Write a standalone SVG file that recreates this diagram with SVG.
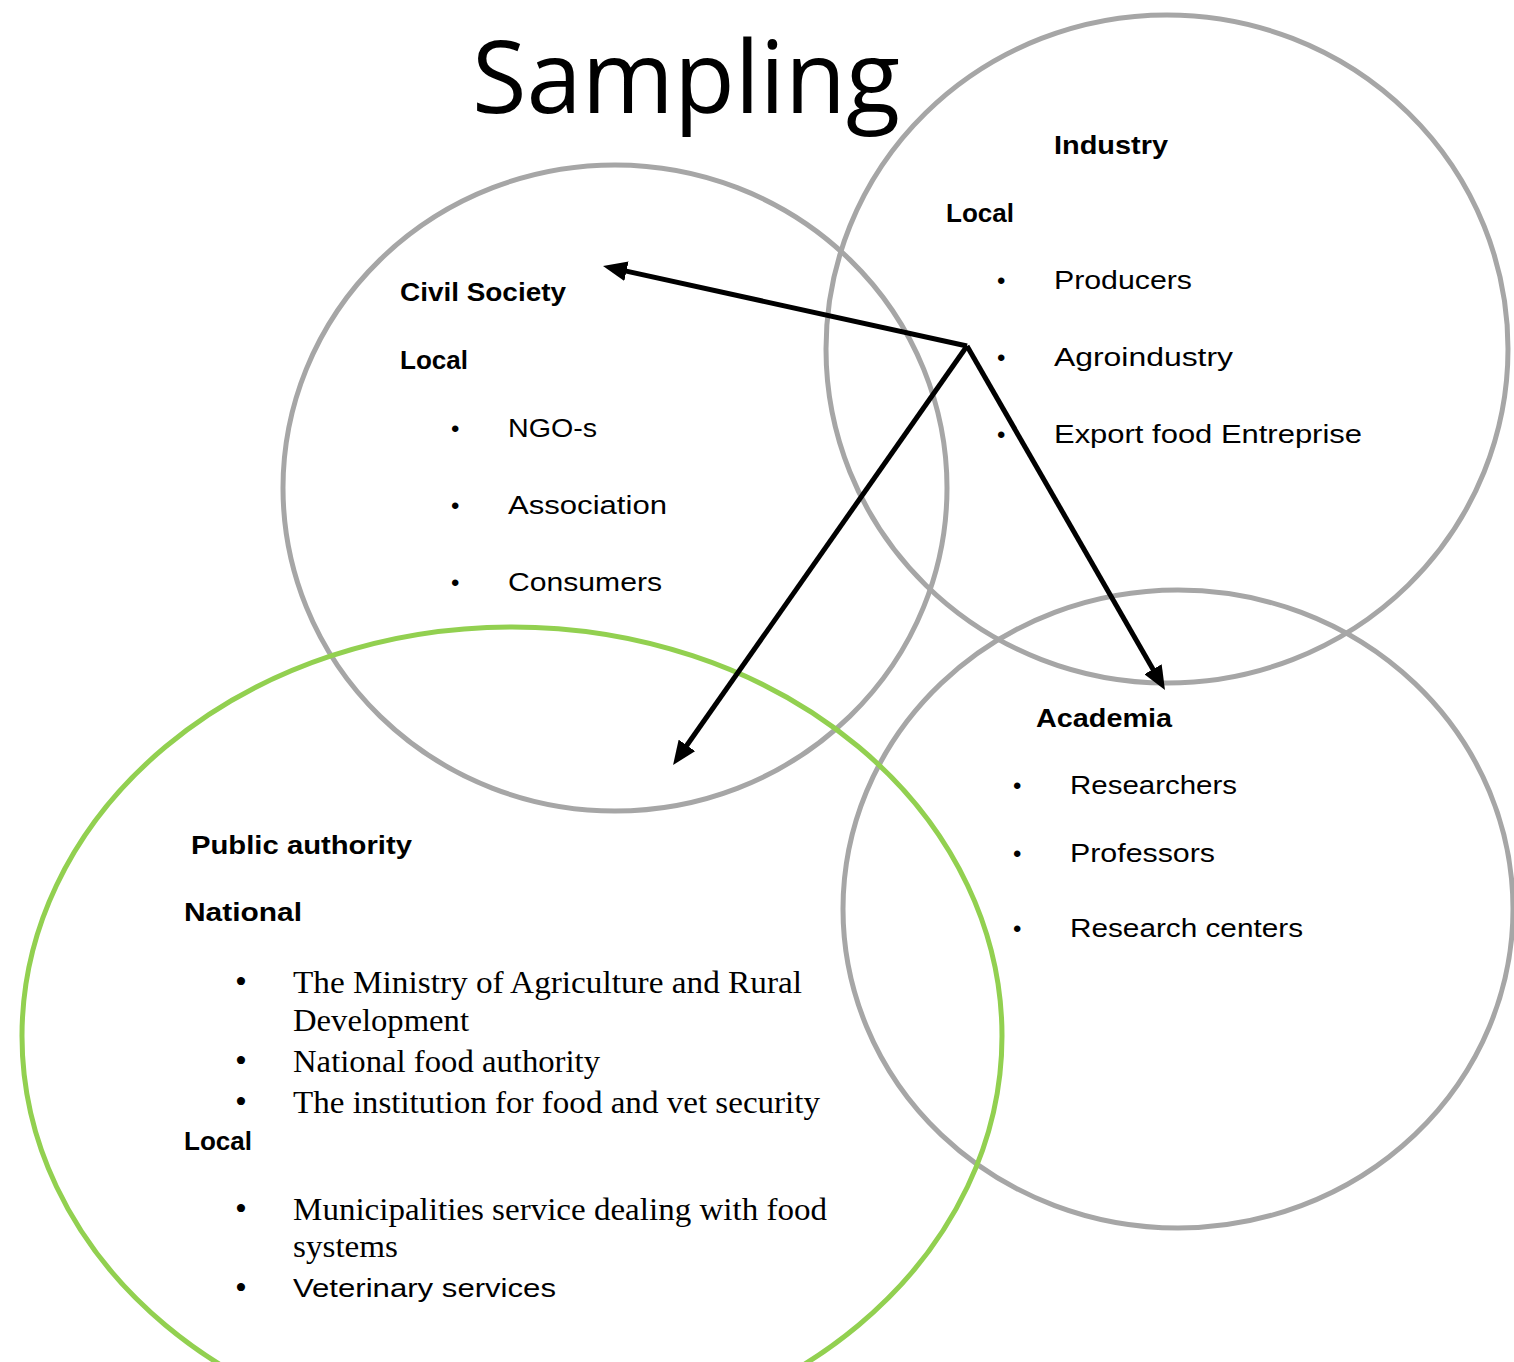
<svg xmlns="http://www.w3.org/2000/svg" width="1514" height="1362" viewBox="0 0 1514 1362">
<style>
.gray{fill:none;stroke:#a6a6a6;stroke-width:5}
.green{fill:none;stroke:#92d050;stroke-width:5}
.t{font-family:"Liberation Sans","DejaVu Sans",sans-serif;font-size:26px;fill:#000}
.b{font-family:"Liberation Sans","DejaVu Sans",sans-serif;font-size:25px;font-weight:bold;fill:#000}
.s{font-family:"Liberation Serif","DejaVu Serif",serif;font-size:32px;fill:#000}
.bul{font-family:"Liberation Sans","DejaVu Sans",sans-serif;font-size:24px;fill:#000}
.sbul{font-family:"Liberation Serif","DejaVu Serif",serif;font-size:34px;fill:#000}
.title{font-family:"Open Sans","Liberation Sans",sans-serif;font-size:100px;fill:#000}
.arrow{fill:none;stroke:#000;stroke-width:5}
</style>
<defs>
<marker id="ah" markerUnits="userSpaceOnUse" viewBox="0 0 24 20" markerWidth="24" markerHeight="20" refX="6" refY="10" orient="auto">
<path d="M0,0 L24,10 L0,20 z" fill="#000"/>
</marker>
</defs>
<rect width="1514" height="1362" fill="#fff"/>
<text class="title" x="472" y="113" textLength="428" lengthAdjust="spacingAndGlyphs">Sampling</text>

<g id="industry">
<ellipse class="gray" cx="1167" cy="349" rx="341" ry="334"/>
<text class="b" x="1054" y="154" textLength="114" lengthAdjust="spacingAndGlyphs">Industry</text>
<text class="b" x="946" y="222" textLength="68" lengthAdjust="spacingAndGlyphs">Local</text>
<text class="bul" x="997" y="289">•</text>
<text class="t" x="1054" y="289" textLength="138" lengthAdjust="spacingAndGlyphs">Producers</text>
<text class="bul" x="997" y="366">•</text>
<text class="t" x="1054" y="366" textLength="179" lengthAdjust="spacingAndGlyphs">Agroindustry</text>
<text class="bul" x="997" y="443">•</text>
<text class="t" x="1054" y="443" textLength="308" lengthAdjust="spacingAndGlyphs">Export food Entreprise</text>
</g>

<g id="civil-society">
<ellipse class="gray" cx="615" cy="488" rx="332" ry="323"/>
<text class="b" x="400" y="301" textLength="166" lengthAdjust="spacingAndGlyphs">Civil Society</text>
<text class="b" x="400" y="369" textLength="68" lengthAdjust="spacingAndGlyphs">Local</text>
<text class="bul" x="451" y="437">•</text>
<text class="t" x="508" y="437" textLength="89" lengthAdjust="spacingAndGlyphs">NGO-s</text>
<text class="bul" x="451" y="514">•</text>
<text class="t" x="508" y="514" textLength="159" lengthAdjust="spacingAndGlyphs">Association</text>
<text class="bul" x="451" y="591">•</text>
<text class="t" x="508" y="591" textLength="154" lengthAdjust="spacingAndGlyphs">Consumers</text>
</g>

<g id="academia">
<ellipse class="gray" cx="1178" cy="909" rx="335" ry="319"/>
<text class="b" x="1036" y="727" textLength="136" lengthAdjust="spacingAndGlyphs">Academia</text>
<text class="bul" x="1013" y="794">•</text>
<text class="t" x="1070" y="794" textLength="167" lengthAdjust="spacingAndGlyphs">Researchers</text>
<text class="bul" x="1013" y="862">•</text>
<text class="t" x="1070" y="862" textLength="145" lengthAdjust="spacingAndGlyphs">Professors</text>
<text class="bul" x="1013" y="937">•</text>
<text class="t" x="1070" y="937" textLength="233" lengthAdjust="spacingAndGlyphs">Research centers</text>
</g>

<g id="public-authority">
<ellipse class="green" cx="512" cy="1036" rx="490" ry="409"/>
<text class="b" x="191" y="854" textLength="221" lengthAdjust="spacingAndGlyphs">Public authority</text>
<text class="b" x="184" y="921" textLength="118" lengthAdjust="spacingAndGlyphs">National</text>
<text class="sbul" x="235" y="993">•</text>
<text class="s" x="293" y="993" textLength="509" lengthAdjust="spacingAndGlyphs">The Ministry  of Agriculture  and Rural</text>
<text class="s" x="293" y="1031" textLength="176" lengthAdjust="spacingAndGlyphs">Development</text>
<text class="sbul" x="235" y="1072">•</text>
<text class="s" x="293" y="1072" textLength="307" lengthAdjust="spacingAndGlyphs">National  food  authority</text>
<text class="sbul" x="235" y="1113">•</text>
<text class="s" x="293" y="1113" textLength="527" lengthAdjust="spacingAndGlyphs">The institution   for food  and vet security</text>
<text class="b" x="184" y="1150" textLength="68" lengthAdjust="spacingAndGlyphs">Local</text>
<text class="sbul" x="235" y="1220">•</text>
<text class="s" x="293" y="1220" textLength="534" lengthAdjust="spacingAndGlyphs">Municipalities  service dealing  with food</text>
<text class="s" x="293" y="1257" textLength="105" lengthAdjust="spacingAndGlyphs">systems</text>
<text class="sbul" x="235" y="1299">•</text>
<text class="t" x="293" y="1297" textLength="263" lengthAdjust="spacingAndGlyphs">Veterinary services</text>
</g>

<g id="connectors">
<line class="arrow" x1="967" y1="346" x2="620.6" y2="269.9" marker-end="url(#ah)"/>
<line class="arrow" x1="967" y1="346" x2="683.4" y2="750.3" marker-end="url(#ah)"/>
<line class="arrow" x1="967" y1="346" x2="1156" y2="674.4" marker-end="url(#ah)"/>
</g>
</svg>
